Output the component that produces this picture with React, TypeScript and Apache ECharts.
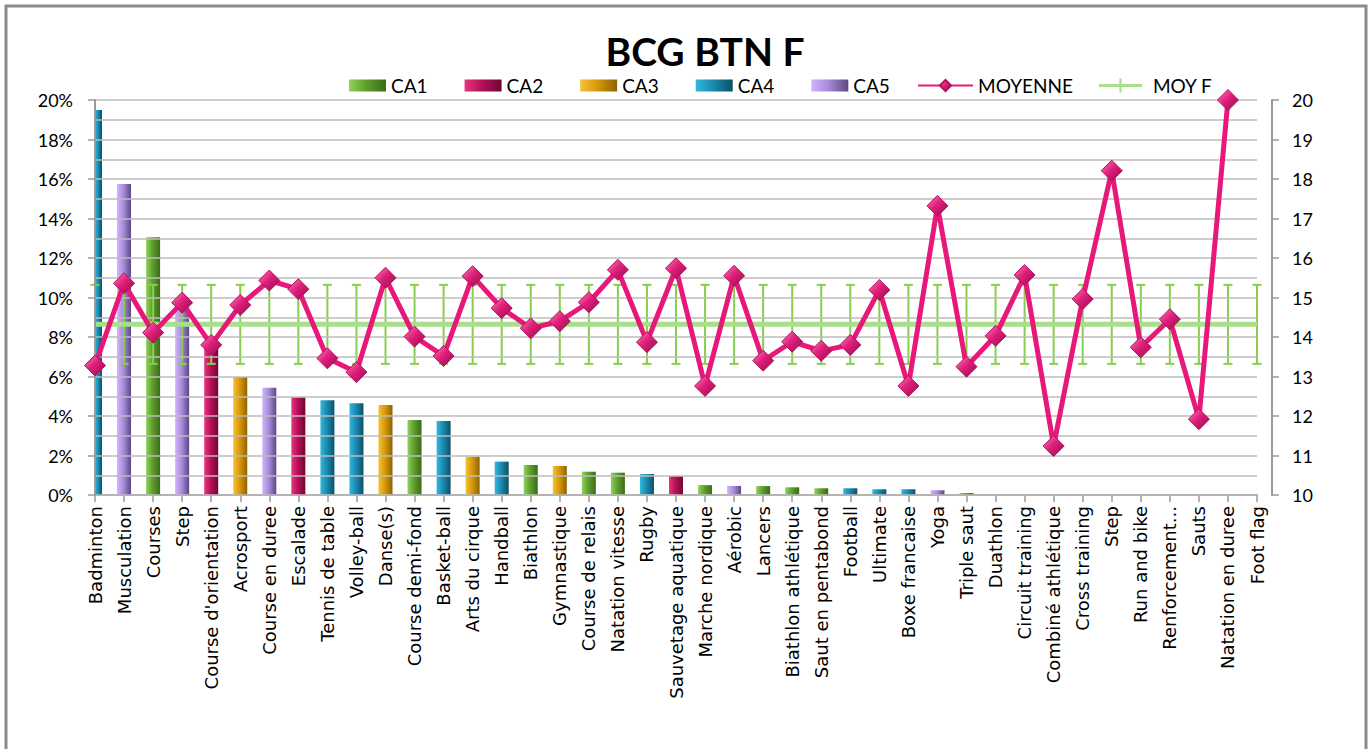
import React, { useEffect, useRef } from "react";
import * as echarts from "echarts";

const categories = [
  "Badminton", "Musculation", "Courses", "Step", "Course d'orientation", "Acrosport",
  "Course en duree", "Escalade", "Tennis de table", "Volley-ball", "Danse(s)",
  "Course demi-fond", "Basket-ball", "Arts du cirque", "Handball", "Biathlon",
  "Gymnastique", "Course de relais", "Natation vitesse", "Rugby", "Sauvetage aquatique",
  "Marche nordique", "Aérobic", "Lancers", "Biathlon athlétique", "Saut en pentabond",
  "Football", "Ultimate", "Boxe francaise", "Yoga", "Triple saut", "Duathlon",
  "Circuit training", "Combiné athlétique", "Cross training", "Step", "Run and bike",
  "Renforcement...", "Sauts", "Natation en duree", "Foot flag",
];

// share of each activity (%), left axis
const shares = [
  19.5, 15.75, 13.05, 9.5, 7.6, 5.97, 5.43, 4.95, 4.8, 4.64, 4.56, 3.8, 3.75, 1.94,
  1.69, 1.52, 1.47, 1.18, 1.13, 1.06, 0.96, 0.5, 0.46, 0.45, 0.39, 0.34, 0.34, 0.29,
  0.29, 0.24, 0.1, 0, 0, 0, 0, 0, 0, 0, 0, 0, 0,
];

// CA group of each activity (0 = none)
const groups = [
  4, 5, 1, 5, 2, 3, 5, 2, 4, 4, 3, 1, 4, 3, 4, 1, 3, 1, 1, 4, 2, 1, 5, 1, 1, 1, 4, 4,
  4, 5, 1, 0, 0, 0, 0, 0, 0, 0, 0, 0, 0,
];

// MOYENNE, right axis
const moyenne = [
  13.28, 15.36, 14.11, 14.87, 13.8, 14.81, 15.43, 15.21, 13.46, 13.11, 15.5, 14.01,
  13.52, 15.54, 14.73, 14.22, 14.4, 14.88, 15.7, 13.87, 15.74, 12.76, 15.55, 13.4,
  13.88, 13.65, 13.8, 15.19, 12.76, 17.32, 13.25, 14.03, 15.57, 11.24, 14.96, 18.21,
  13.74, 14.45, 11.92, 20.0, null,
];

// MOY F, right axis
const moyF = [
  14.32, 14.32, 14.32, 14.32, 14.32, 14.32, 14.32, 14.32, 14.32, 14.32, 14.32, 14.32,
  14.32, 14.32, 14.32, 14.32, 14.32, 14.32, 14.32, 14.32, 14.32, 14.32, 14.32, 14.32,
  14.32, 14.32, 14.32, 14.32, 14.32, 14.32, 14.32, 14.32, 14.32, 14.32, 14.32, 14.32,
  14.32, 14.32, 14.32, 14.32, 14.32,
];
const moyFErr = 1.0;

const groupNames = ["CA1", "CA2", "CA3", "CA4", "CA5"];
const groupColors = [
  ["#8fd35a", "#5f9f2e", "#3b6b18"],
  ["#e8357f", "#b8105a", "#6e0733"],
  ["#f6c03a", "#d99a08", "#8d6200"],
  ["#34b6dc", "#1a8cb2", "#0c5066"],
  ["#d2b4fa", "#a98ddb", "#5c4782"],
];

export default function App() {
  const ref = useRef<HTMLDivElement>(null);

  useEffect(() => {
    if (!ref.current) return;
    const chart = echarts.init(ref.current, undefined, { renderer: "svg" });

    const barSeries = groupNames.map((name, g) => ({
      name,
      type: "custom",
      z: 2,
      encode: { x: 0, y: 1 },
      itemStyle: {
        color: new echarts.graphic.LinearGradient(0, 0, 1, 0, [
          { offset: 0, color: groupColors[g][0] },
          { offset: 0.45, color: groupColors[g][1] },
          { offset: 1, color: groupColors[g][2] },
        ]),
      },
      data: shares
        .map((v, i) => [i, v, groups[i]])
        .filter((d) => d[2] === g + 1 && d[1] > 0)
        .map((d) => [d[0], d[1]]),
      renderItem: (params: any, api: any) => {
        const i = api.value(0);
        const v = api.value(1);
        const base = api.coord([i, 0]);
        const top = api.coord([i, v]);
        const bw = 14;
        const rect = { x: base[0] - bw / 2, y: top[1], width: bw, height: base[1] - top[1] };
        const cs = params.coordSys;
        const clipped = echarts.graphic.clipRectByRect(rect, {
          x: cs.x,
          y: cs.y,
          width: cs.width,
          height: cs.height,
        });
        if (!clipped) return null;
        return { type: "rect", shape: clipped, style: api.style() };
      },
    }));

    const errColor = "#84d04a";

    chart.setOption({
      animation: false,
      backgroundColor: "#ffffff",
      title: {
        text: "BCG BTN F",
        left: 700,
        textAlign: "center",
        top: 26,
        textStyle: { fontFamily: "Lato", fontWeight: "bold", fontSize: 39, color: "#000" },
      },
      legend: [
        {
          data: groupNames.map((n) => ({ name: n, icon: "rect" })),
          left: 344,
          top: 71,
          itemWidth: 37,
          itemHeight: 12,
          itemGap: 37,
          textStyle: { fontFamily: "Lato", fontSize: 19, color: "#000" },
        },
        {
          data: [
            { name: "MOYENNE" },
            { name: "MOY F", icon: "path://M0,5 L40,5 L40,8 L0,8 Z M19,0 L21,0 L21,13 L19,13 Z" },
          ],
          left: 912,
          top: 71,
          itemWidth: 55,
          itemHeight: 14,
          itemGap: 26,
          textStyle: { fontFamily: "Lato", fontSize: 19, color: "#000" },
        },
      ],
      graphic: [
        {
          type: "rect",
          shape: { x: 6, y: 6, width: 1360, height: 760 },
          style: { fill: "none", stroke: "#8a8a8a", lineWidth: 3 },
          silent: true,
        },
      ],
      grid: { left: 95, right: 115, top: 100, bottom: 254 },
      xAxis: {
        type: "category",
        data: categories,
        boundaryGap: false,
        axisLine: { lineStyle: { color: "#9a9a9a", width: 2 } },
        axisTick: { show: true, length: 7, interval: 0, lineStyle: { color: "#9a9a9a", width: 1.5 } },
        axisLabel: {
          interval: 0,
          rotate: 90,
          margin: 11,
          fontFamily: "DejaVu Sans",
          fontSize: 18,
          color: "#000",
        },
        splitLine: { show: false },
      },
      yAxis: [
        {
          type: "value",
          min: 0,
          max: 20,
          interval: 2,
          z: 5,
          axisLine: { show: true, lineStyle: { color: "#9a9a9a", width: 2 } },
          axisTick: { show: true, length: 7, lineStyle: { color: "#9a9a9a", width: 1.5 } },
          axisLabel: {
            formatter: (v: number) => v + "%",
            margin: 22,
            fontFamily: "Lato",
            fontSize: 18,
            color: "#000",
          },
          splitLine: { show: true, lineStyle: { color: "#bcbcbc", width: 1.5 } },
          minorTick: { show: true, splitNumber: 2, length: 0 },
          minorSplitLine: { show: true, lineStyle: { color: "#bcbcbc", width: 1.5 } },
        },
        {
          type: "value",
          min: 10,
          max: 20,
          interval: 1,
          position: "right",
          offset: 15,
          axisLine: { show: true, lineStyle: { color: "#9a9a9a", width: 2 } },
          axisTick: { show: true, length: 7, lineStyle: { color: "#9a9a9a", width: 1.5 } },
          axisLabel: { margin: 20, fontFamily: "Lato", fontSize: 18, color: "#000" },
          splitLine: { show: false },
        },
      ],
      series: [
        ...barSeries,
        {
          name: "MOY F err",
          type: "custom",
          yAxisIndex: 1,
          z: 3,
          encode: { x: 0, y: [1, 2] },
          data: moyF.map((v, i) => [i, v - moyFErr, v + moyFErr]),
          renderItem: (params: any, api: any) => {
            const i = api.value(0);
            const top = api.coord([i, api.value(2)]);
            const bot = api.coord([i, api.value(1)]);
            const hw = 4.5;
            const st = { stroke: errColor, lineWidth: 2 };
            return {
              type: "group",
              children: [
                { type: "line", shape: { x1: top[0], y1: top[1], x2: bot[0], y2: bot[1] }, style: st },
                { type: "line", shape: { x1: top[0] - hw, y1: top[1], x2: top[0] + hw, y2: top[1] }, style: st },
                { type: "line", shape: { x1: bot[0] - hw, y1: bot[1], x2: bot[0] + hw, y2: bot[1] }, style: st },
              ],
            };
          },
        },
        {
          name: "MOY F",
          type: "line",
          yAxisIndex: 1,
          z: 4,
          data: moyF,
          symbol: "none",
          color: "#a8df8a",
          lineStyle: { color: "#a8df8a", width: 5 },
        },
        {
          name: "MOYENNE",
          type: "line",
          yAxisIndex: 1,
          z: 5,
          data: moyenne,
          symbol: "diamond",
          symbolSize: 21,
          clip: false,
          color: "#e8187b",
          lineStyle: { color: "#e8187b", width: 5 },
          itemStyle: {
            color: new echarts.graphic.LinearGradient(0, 0, 1, 1, [
              { offset: 0, color: "#f58cbc" },
              { offset: 0.45, color: "#e21f7c" },
              { offset: 1, color: "#8e0c47" },
            ]),
            borderColor: "#b0125e",
            borderWidth: 1,
          },
        },
      ],
    });

    return () => chart.dispose();
  }, []);

  return (
    <div
      ref={ref}
      style={{ position: "fixed", left: 0, top: 0, width: 1372, height: 749, background: "#fff" }}
    />
  );
}
